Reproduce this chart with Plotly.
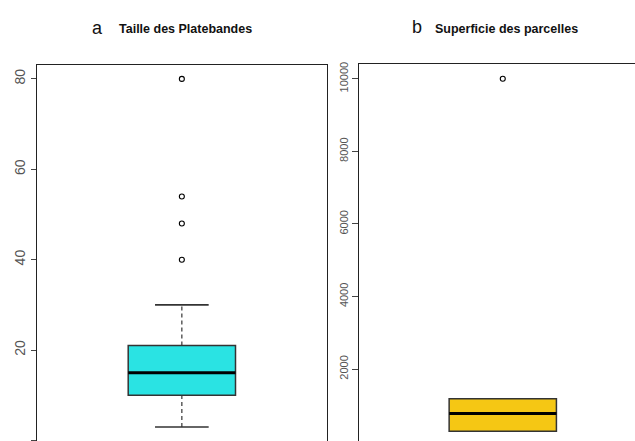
import plotly.graph_objects as go

# Panel a: Taille des Platebandes
a_stats = {"q1": 10, "median": 15, "q3": 21, "lower": 3, "upper": 30}
a_outliers = [80, 54, 48, 40]
a_ticks = [0, 20, 40, 60, 80]

# Panel b: Superficie des parcelles
b_stats = {"q1": 290, "median": 780, "q3": 1180, "lower": 290, "upper": 1180}
b_outliers = [10000]
b_ticks = [0, 2000, 4000, 6000, 8000, 10000]

a_color = "#2AE3E3"
b_color = "#F5C714"
edge = "#333333"

fig = go.Figure()


def add_box(fig, stats, outliers, fill, xref, yref):
    xa = "x" if xref == "x" else "x2"
    ya = "y" if yref == "y" else "y2"
    pos = 1.0
    half = 0.2
    cap = 0.1
    # whiskers (dashed)
    for a, b in ((stats["q3"], stats["upper"]), (stats["lower"], stats["q1"])):
        if a != b:
            fig.add_trace(go.Scatter(x=[pos, pos], y=[a, b], mode="lines",
                                     line=dict(color=edge, width=1.2, dash="4px,3px"),
                                     xaxis=xa, yaxis=ya, hoverinfo="skip", showlegend=False))
    # staples
    for v in (stats["upper"], stats["lower"]):
        fig.add_trace(go.Scatter(x=[pos - cap, pos + cap], y=[v, v], mode="lines",
                                 line=dict(color=edge, width=1.6),
                                 xaxis=xa, yaxis=ya, hoverinfo="skip", showlegend=False))
    # box
    fig.add_shape(type="rect", xref=xref, yref=yref,
                  x0=pos - half, x1=pos + half, y0=stats["q1"], y1=stats["q3"],
                  fillcolor=fill, line=dict(color=edge, width=1.5), layer="above")
    # median
    fig.add_shape(type="line", xref=xref, yref=yref,
                  x0=pos - half, x1=pos + half, y0=stats["median"], y1=stats["median"],
                  line=dict(color="black", width=3), layer="above")
    # outliers
    fig.add_trace(go.Scatter(x=[pos] * len(outliers), y=outliers, mode="markers",
                             marker=dict(symbol="circle-open", size=5, color="black",
                                         line=dict(width=1.1)),
                             xaxis=xa, yaxis=ya, hoverinfo="skip", showlegend=False))


add_box(fig, a_stats, a_outliers, a_color, "x", "y")
add_box(fig, b_stats, b_outliers, b_color, "x2", "y2")

tickfont_a = dict(family="Liberation Sans, Arial, sans-serif", size=14, color="#555555")
tickfont_b = dict(family="Liberation Sans, Arial, sans-serif", size=11, color="#555555")

fig.update_layout(
    width=635, height=441,
    margin=dict(l=0, r=0, t=0, b=0),
    paper_bgcolor="white", plot_bgcolor="white",
    showlegend=False,
    xaxis=dict(domain=[37 / 635, 326.7 / 635], range=[0.46, 1.54],
               showgrid=False, zeroline=False, showticklabels=False, ticks="",
               showline=True, mirror=True, linecolor="#222222", linewidth=1),
    yaxis=dict(domain=[0.0003, 0.8565], range=[-0.08, 83.08],
               tickvals=a_ticks, ticktext=[str(t) for t in a_ticks],
               tickangle=-90, tickfont=tickfont_a,
               ticks="outside", ticklen=5, tickcolor="#444444",
               showgrid=False, zeroline=False,
               showline=True, mirror=True, linecolor="#222222", linewidth=1),
    xaxis2=dict(domain=[359.3 / 635, 1.0], range=[0.465, 1.493], anchor="y2",
                side="top",
                showgrid=False, zeroline=False, showticklabels=False, ticks="",
                showline=True, linecolor="#222222", linewidth=1),
    yaxis2=dict(domain=[0.0, 0.858], range=[19, 10398], anchor="x2",
                tickvals=b_ticks, ticktext=[str(t) for t in b_ticks],
                tickangle=-90, tickfont=tickfont_b,
                ticks="outside", ticklen=6, tickcolor="#444444",
                showgrid=False, zeroline=False,
                showline=True, linecolor="#222222", linewidth=1),
)

title_font = dict(family="Liberation Sans, Arial, sans-serif", size=12.5, color="#111111")
letter_font = dict(family="Liberation Sans, Arial, sans-serif", size=18, color="#111111")

fig.add_annotation(text="a", x=97 / 635, y=1 - 26 / 441, xref="paper", yref="paper",
                   showarrow=False, font=letter_font, xanchor="center", yanchor="middle")
fig.add_annotation(text="<b>Taille des Platebandes</b>", x=117 / 635, y=1 - 27 / 441,
                   xref="paper", yref="paper", showarrow=False, font=title_font,
                   xanchor="left", yanchor="middle")
fig.add_annotation(text="b", x=417 / 635, y=1 - 25 / 441, xref="paper", yref="paper",
                   showarrow=False, font=letter_font, xanchor="center", yanchor="middle")
fig.add_annotation(text="<b>Superficie des parcelles</b>", x=433 / 635, y=1 - 27 / 441,
                   xref="paper", yref="paper", showarrow=False, font=title_font,
                   xanchor="left", yanchor="middle")

fig.write_html("out.html")
